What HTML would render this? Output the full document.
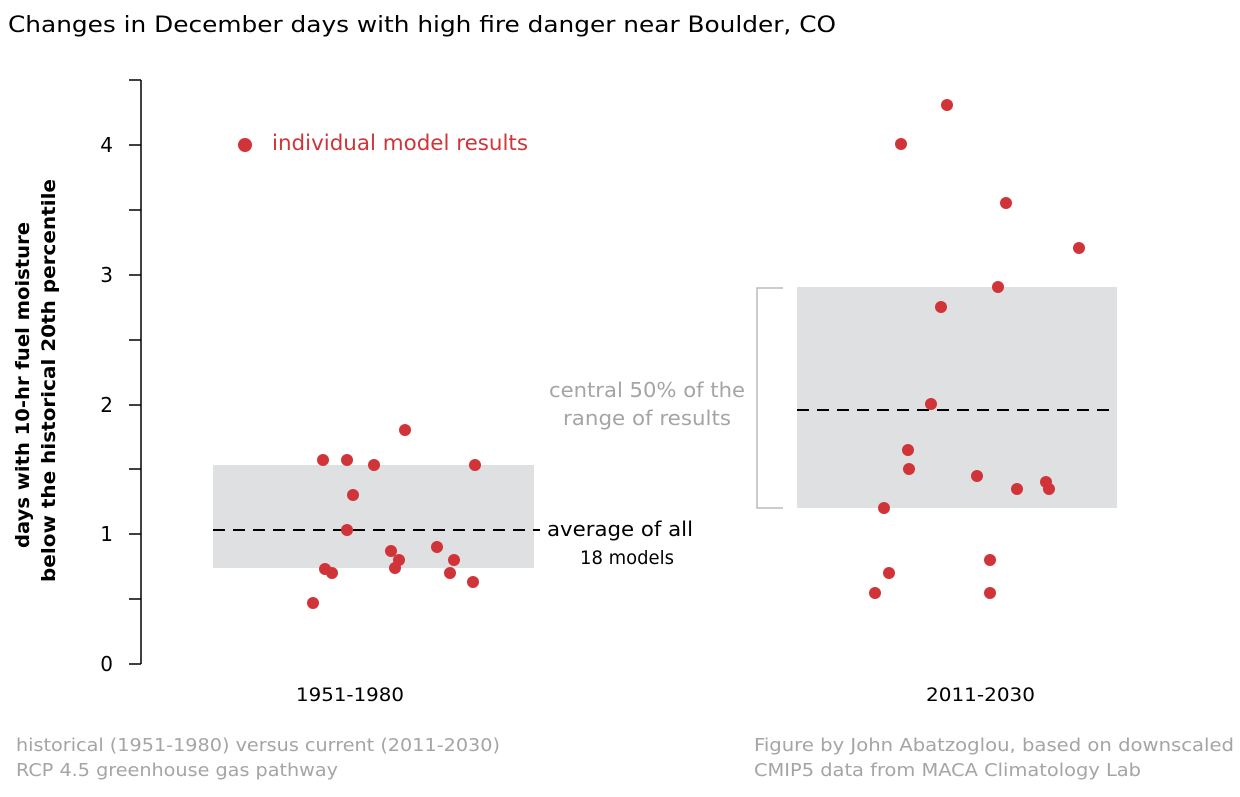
<!DOCTYPE html>
<html><head><meta charset="utf-8"><style>
body{margin:0;background:#fff}
svg text{font-family:"DejaVu Sans","Liberation Sans",sans-serif}
</style></head><body>
<svg width="1240" height="792" xmlns="http://www.w3.org/2000/svg">
<rect width="1240" height="792" fill="#fff"/>
<text x="8" y="32" font-size="22" fill="#000" textLength="828" lengthAdjust="spacingAndGlyphs">Changes in December days with high fire danger near Boulder, CO</text>
<rect x="213" y="465" width="321" height="103" fill="#dfe0e2"/>
<rect x="797" y="287" width="320" height="221" fill="#dfe0e2"/>
<line x1="213" y1="530" x2="540" y2="530" stroke="#000" stroke-width="2" stroke-dasharray="12,8"/>
<line x1="797" y1="410" x2="1117" y2="410" stroke="#000" stroke-width="2" stroke-dasharray="12,8"/>
<polyline points="783,288 757,288 757,508 783,508" fill="none" stroke="#bbb" stroke-width="1.5"/>
<g stroke="#000" stroke-width="1.5">
<line x1="141" y1="80" x2="141" y2="664"/>
<line x1="129" y1="80" x2="141" y2="80"/>
<line x1="129" y1="145" x2="141" y2="145"/>
<line x1="129" y1="210" x2="141" y2="210"/>
<line x1="129" y1="275" x2="141" y2="275"/>
<line x1="129" y1="340" x2="141" y2="340"/>
<line x1="129" y1="405" x2="141" y2="405"/>
<line x1="129" y1="469" x2="141" y2="469"/>
<line x1="129" y1="534" x2="141" y2="534"/>
<line x1="129" y1="599" x2="141" y2="599"/>
<line x1="129" y1="664" x2="141" y2="664"/>
</g>
<g font-size="20" fill="#000" text-anchor="end">
<text x="113" y="152">4</text><text x="113" y="282">3</text><text x="113" y="412">2</text><text x="113" y="541">1</text><text x="113" y="671">0</text>
</g>
<text transform="translate(29,548) rotate(-90)" font-size="19" font-weight="bold" textLength="326" lengthAdjust="spacingAndGlyphs">days with 10-hr fuel moisture</text>
<text transform="translate(55,582) rotate(-90)" font-size="19" font-weight="bold" textLength="403" lengthAdjust="spacingAndGlyphs">below the historical 20th percentile</text>
<text x="296" y="701" font-size="19" textLength="108" lengthAdjust="spacingAndGlyphs">1951-1980</text>
<text x="926" y="701" font-size="19" textLength="109" lengthAdjust="spacingAndGlyphs">2011-2030</text>
<g fill="#d13438">
<circle cx="245" cy="145" r="7"/>
<circle cx="323" cy="460" r="6"/><circle cx="347" cy="460" r="6"/><circle cx="374" cy="465" r="6"/><circle cx="405" cy="430" r="6"/><circle cx="475" cy="465" r="6"/><circle cx="353" cy="495" r="6"/><circle cx="347" cy="530" r="6"/><circle cx="391" cy="551" r="6"/><circle cx="399" cy="560" r="6"/><circle cx="395" cy="568" r="6"/><circle cx="325" cy="569" r="6"/><circle cx="332" cy="573" r="6"/><circle cx="437" cy="547" r="6"/><circle cx="454" cy="560" r="6"/><circle cx="450" cy="573" r="6"/><circle cx="473" cy="582" r="6"/><circle cx="313" cy="603" r="6"/>
<circle cx="947" cy="105" r="6"/><circle cx="901" cy="144" r="6"/><circle cx="1006" cy="203" r="6"/><circle cx="1079" cy="248" r="6"/><circle cx="998" cy="287" r="6"/><circle cx="941" cy="307" r="6"/><circle cx="931" cy="404" r="6"/><circle cx="908" cy="450" r="6"/><circle cx="909" cy="469" r="6"/><circle cx="977" cy="476" r="6"/><circle cx="1017" cy="489" r="6"/><circle cx="1046" cy="482" r="6"/><circle cx="1049" cy="489" r="6"/><circle cx="884" cy="508" r="6"/><circle cx="990" cy="560" r="6"/><circle cx="889" cy="573" r="6"/><circle cx="875" cy="593" r="6"/><circle cx="990" cy="593" r="6"/>
</g>
<text x="272" y="150" font-size="21" fill="#d13438" textLength="256" lengthAdjust="spacingAndGlyphs">individual model results</text>
<text x="547" y="536" font-size="20" textLength="146" lengthAdjust="spacingAndGlyphs">average of all</text>
<text x="580" y="564" font-size="19" textLength="94" lengthAdjust="spacingAndGlyphs">18 models</text>
<text x="549" y="397" font-size="20" fill="#a5a5a5" textLength="196" lengthAdjust="spacingAndGlyphs">central 50% of the</text>
<text x="563" y="425" font-size="20" fill="#a5a5a5" textLength="168" lengthAdjust="spacingAndGlyphs">range of results</text>
<g font-size="18" fill="#a5a5a5">
<text x="16" y="751" textLength="484" lengthAdjust="spacingAndGlyphs">historical (1951-1980) versus current (2011-2030)</text>
<text x="16" y="776" textLength="322" lengthAdjust="spacingAndGlyphs">RCP 4.5 greenhouse gas pathway</text>
<text x="754" y="751" textLength="480" lengthAdjust="spacingAndGlyphs">Figure by John Abatzoglou, based on downscaled</text>
<text x="754" y="776" textLength="387" lengthAdjust="spacingAndGlyphs">CMIP5 data from MACA Climatology Lab</text>
</g>
</svg>
</body></html>
